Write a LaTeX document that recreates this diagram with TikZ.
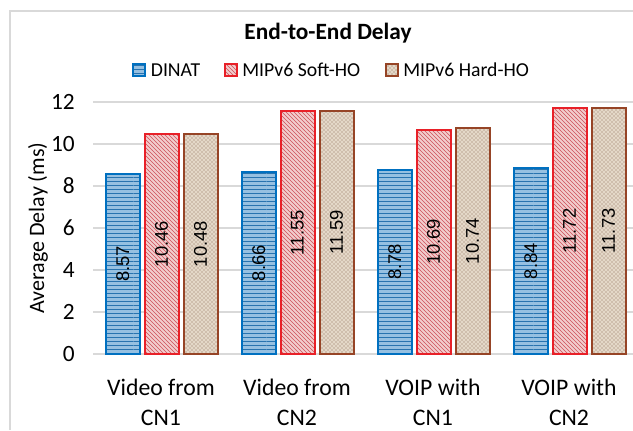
\documentclass[tikz,border=0pt]{standalone}
\usepackage{fontspec}
\setmainfont{Carlito}
\newfontfamily\arialfont{Liberation Sans}
\usetikzlibrary{patterns}
\usetikzlibrary{positioning}

\definecolor{dinatline}{RGB}{0,112,192}
\definecolor{dinatfill}{RGB}{150,192,225}
\definecolor{dinatstripe}{RGB}{40,115,175}
\definecolor{softline}{RGB}{232,32,40}
\definecolor{softfill}{RGB}{242,205,205}
\definecolor{softstripe}{RGB}{205,80,90}
\definecolor{hardline}{RGB}{150,68,38}
\definecolor{hardfill}{RGB}{228,216,200}
\definecolor{hardstripe}{RGB}{140,105,85}
\definecolor{gridgray}{RGB}{217,217,217}

\tikzset{
  dinat/.style={preaction={fill=dinatfill},pattern=horizontal lines,pattern color=dinatstripe,
    postaction={draw=dinatline,line width=1.5pt}},
  soft/.style={preaction={fill=softfill},pattern=north west lines,pattern color=softstripe,
    postaction={draw=softline,line width=1.5pt}},
  hard/.style={preaction={fill=hardfill},pattern=crosshatch dots,pattern color=hardstripe,
    postaction={draw=hardline,line width=1.5pt}},
  gridline/.style={draw=gridgray,line width=0.8pt},
  barlabel/.style={font=\arialfont\fontsize{13.8}{15}\selectfont,rotate=90,inner sep=0pt},
  ticklabel/.style={font=\fontsize{17.5}{18}\selectfont,anchor=east,inner sep=0pt},
  catlabel/.style={font=\fontsize{17.8}{22.5}\selectfont,align=center,inner sep=0pt},
  legendbox/.style={minimum width=9pt,minimum height=9pt,inner sep=0pt},
  legendtext/.style={font=\fontsize{14.8}{16}\selectfont,anchor=west,inner sep=0pt}
}

\begin{document}
\begin{tikzpicture}[x=0.75pt,y=0.75pt]
\useasboundingbox (0,0) rectangle (633,430);
\fill[white] (0,0) rectangle (633,430);
% chart frame
\draw[gridline] (10,0) -- (10,419) -- (633,419);

% grid and y axis
\draw[gridline] (93,76) -- (633,76);
\node[ticklabel] (t0) at (75,76) {0};
\draw[gridline] (93,118) -- (633,118);
\node[ticklabel] (t2) at (75,118) {2};
\draw[gridline] (93,160) -- (633,160);
\node[ticklabel] (t4) at (75,160) {4};
\draw[gridline] (93,202) -- (633,202);
\node[ticklabel] (t6) at (75,202) {6};
\draw[gridline] (93,244) -- (633,244);
\node[ticklabel] (t8) at (75,244) {8};
\draw[gridline] (93,286) -- (633,286);
\node[ticklabel] (t10) at (75,286) {10};
\draw[gridline] (93,328) -- (633,328);
\node[ticklabel] (t12) at (75,328) {12};
\node[font=\fontsize{16.5}{18}\selectfont,rotate=90] (ylab) at (38,202) {Average Delay (ms)};

% bars: value v -> top at 76+21v
\path[dinat] (105.5,76) rectangle (140,255.97);
\path[soft] (144.5,76) rectangle (178.5,295.66);
\path[hard] (183.5,76) rectangle (217.5,296.08);
\path[dinat] (241.5,76) rectangle (276,257.86);
\path[soft] (280.5,76) rectangle (314.5,318.55);
\path[hard] (319.5,76) rectangle (353.5,319.39);
\path[dinat] (377.5,76) rectangle (412,260.38);
\path[soft] (416.5,76) rectangle (450.5,300.49);
\path[hard] (455.5,76) rectangle (489.5,301.54);
\path[dinat] (513.5,76) rectangle (548,261.64);
\path[soft] (552.5,76) rectangle (586.5,322.12);
\path[hard] (591.5,76) rectangle (625.5,322.33);

% values
\node[barlabel] (v11) at (122.75,166) {8.57};
\node[barlabel] (v12) at (161.5,185.8) {10.46};
\node[barlabel] (v13) at (200.5,186) {10.48};
\node[barlabel] (v21) at (258.75,166.9) {8.66};
\node[barlabel] (v22) at (297.5,197.3) {11.55};
\node[barlabel] (v23) at (336.5,197.7) {11.59};
\node[barlabel] (v31) at (394.75,168.2) {8.78};
\node[barlabel] (v32) at (433.5,188.2) {10.69};
\node[barlabel] (v33) at (472.5,188.8) {10.74};
\node[barlabel] (v41) at (530.75,168.8) {8.84};
\node[barlabel] (v42) at (569.5,199.1) {11.72};
\node[barlabel] (v43) at (608.5,199.2) {11.73};

% categories
\node[catlabel] (c1) at (161,28) {Video from\\CN1};
\node[catlabel] (c2) at (297,28) {Video from\\CN2};
\node[catlabel] (c3) at (433,28) {VOIP with\\CN1};
\node[catlabel] (c4) at (569,28) {VOIP with\\CN2};

% title and legend
\node[font=\bfseries\fontsize{17.5}{20}\selectfont] (title) at (328,397) {End-to-End Delay};
\node[legendbox,dinat] (k1) at (139,360) {};
\node[legendtext,right=4pt of k1] (l1) {DINAT};
\node[legendbox,soft] (k2) at (230.5,360) {};
\node[legendtext,right=4pt of k2] (l2) {MIPv6 Soft-HO};
\node[legendbox,hard] (k3) at (391.5,360) {};
\node[legendtext,right=4pt of k3] (l3) {MIPv6 Hard-HO};

\end{tikzpicture}
\end{document}
